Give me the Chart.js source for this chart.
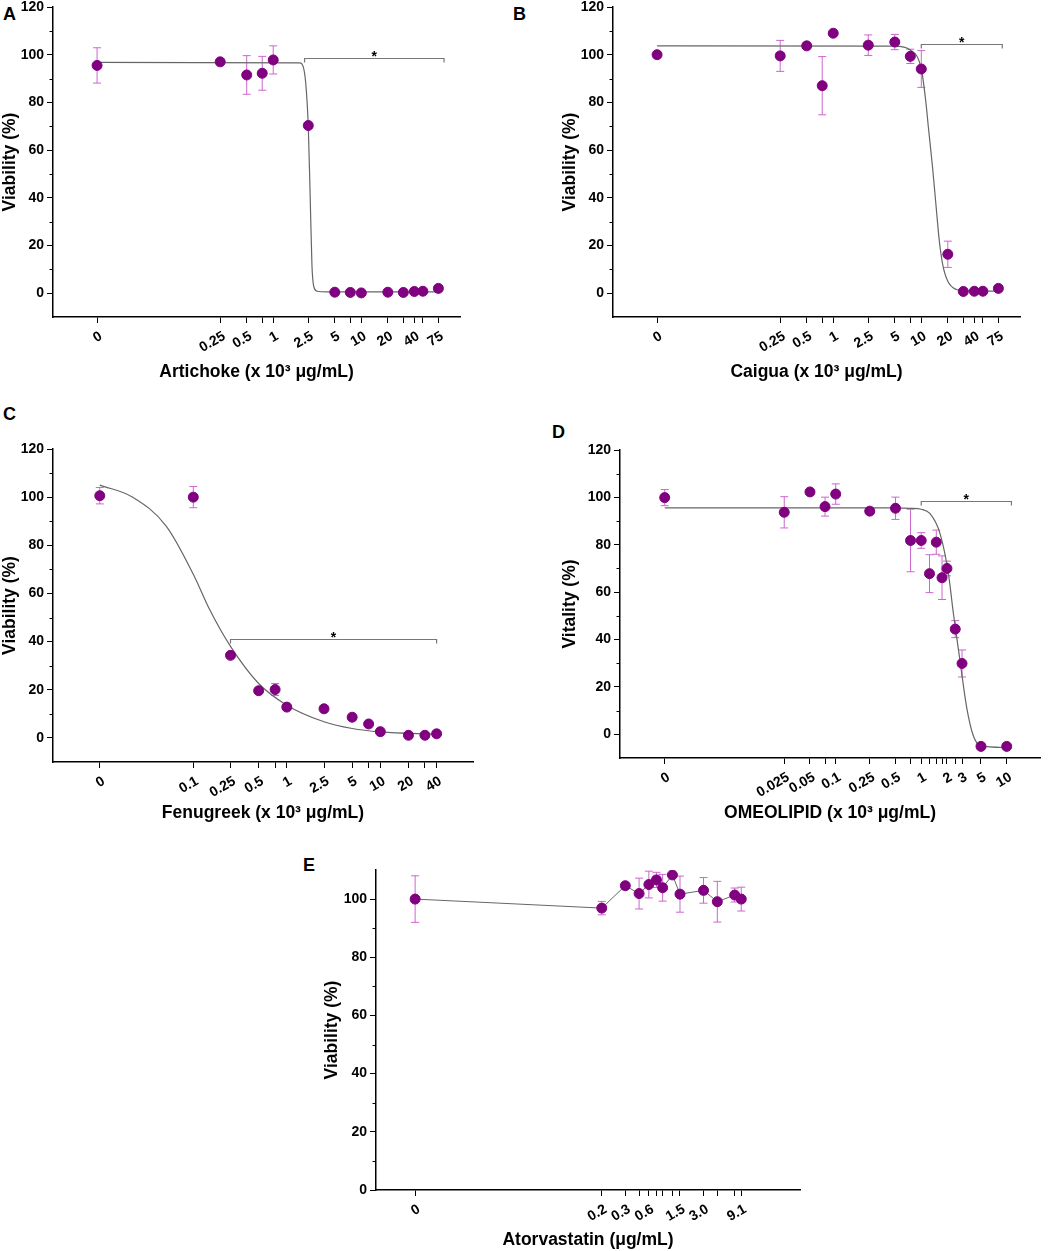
<!DOCTYPE html>
<html lang="en">
<head>
<meta charset="UTF-8">
<title>Viability</title>
<script src="https://cdn.jsdelivr.net/npm/chart.js"></script>
<style>
  body { margin: 0; background: #fff; width: 1052px; height: 1251px; position: relative; overflow: hidden;
         font-family: "Liberation Sans", Arial, sans-serif; }
  canvas { position: absolute; }
  .tag { position: absolute; font-weight: bold; font-size: 18px; line-height: 18px; color: #000; }
</style>
</head>
<body>
<div class="tag" style="left:3px;top:5px">A</div>
<div class="tag" style="left:513px;top:5px">B</div>
<div class="tag" style="left:3px;top:405px">C</div>
<div class="tag" style="left:552px;top:423px">D</div>
<div class="tag" style="left:303px;top:856px">E</div>

<canvas id="chartA" width="470" height="387" style="left:0px;top:0px"></canvas>
<canvas id="chartB" width="470" height="387" style="left:560px;top:0px"></canvas>
<canvas id="chartC" width="485" height="388" style="left:0px;top:440px"></canvas>
<canvas id="chartD" width="490" height="388" style="left:560px;top:440px"></canvas>
<canvas id="chartE" width="488" height="395" style="left:322px;top:860px"></canvas>

<script>
// ---- A: Artichoke ----
const dosesA = [0, 0.25, 0.5, 0.75, 1, 2.5, 5, 7.5, 10, 20, 30, 40, 50, 75];
const viabA  = [95.5, 97, 91.5, 92.2, 97.8, 70.3, 0.4, 0.3, 0.1, 0.4, 0.3, 0.7, 0.8, 2.0];
const sdA    = [7.4, 0.8, 8.1, 7.1, 5.9, 1.0, 0, 0, 0, 0, 0, 0, 0, 0];
const fitDoseA = [0, 2.0, 2.19, 2.34, 2.5, 2.63, 2.75, 2.88, 3.16, 4.0, 75];
const fitViabA = [96.8, 96.6, 95, 88, 70, 40, 12, 3, 0.8, 0.5, 0.5];
const tickDosesA  = [0, 0.25, 0.5, 0.75, 1, 2.5, 5, 7.5, 10, 20, 30, 40, 50, 75];
const tickLabelsA = ['0', '0.25', '0.5', '', '1', '2.5', '5', '', '10', '20', '', '40', '', '75'];

// ---- B: Caigua ----
const dosesB = [0, 0.25, 0.5, 0.75, 1, 2.5, 5, 7.5, 10, 20, 30, 40, 50, 75];
const viabB  = [100, 99.5, 103.7, 87, 109, 104, 105.3, 99.3, 94, 16.3, 0.7, 0.8, 0.8, 2.0];
const sdB    = [0, 6.5, 0, 12.2, 0, 4.3, 3.2, 3, 7.7, 5.5, 0, 0, 0, 0];
const fitDoseB = [0, 5, 7.5, 10, 11.2, 12, 13.4, 15, 16, 17.5, 20, 25, 30, 75];
const fitViabB = [103.7, 103.6, 102, 94, 81, 70, 53, 33, 22, 12, 5, 1.5, 1.0, 0.8];
const tickDosesB  = [0, 0.25, 0.5, 0.75, 1, 2.5, 5, 7.5, 10, 20, 30, 40, 50, 75];
const tickLabelsB = ['0', '0.25', '0.5', '', '1', '2.5', '5', '', '10', '20', '', '40', '', '75'];

// ---- C: Fenugreek ----
const dosesC = [0, 0.1, 0.25, 0.5, 0.75, 1, 2.5, 5, 7.5, 10, 20, 30, 40];
const viabC  = [100.6, 100, 34.3, 19.6, 20.1, 12.8, 12.1, 8.6, 5.8, 2.6, 1.1, 1.1, 1.7];
const sdC    = [3.4, 4.4, 0.8, 0.8, 2.5, 0.8, 0.5, 1.3, 0.5, 0.5, 0, 0, 0];
const fitDoseC = [0, 0.0225, 0.0513, 0.1, 0.151, 0.251, 0.5, 1, 2.5, 5, 10, 40];
const fitViabC = [105, 100, 88, 68, 53, 37.9, 22.6, 13.6, 6.7, 3.9, 2.5, 1.5];
const tickDosesC  = [0, 0.1, 0.25, 0.5, 0.75, 1, 2.5, 5, 7.5, 10, 20, 30, 40];
const tickLabelsC = ['0', '0.1', '0.25', '0.5', '', '1', '2.5', '5', '', '10', '20', '', '40'];

// ---- D: OMEOLIPID ----
const dosesD = [0, 0.025, 0.05, 0.075, 0.1, 0.25, 0.5, 0.75, 1, 1.25, 1.5, 1.75, 2, 2.5, 3, 5, 10];
const viabD  = [99.9, 93.7, 102.3, 96.1, 101.4, 94.2, 95.4, 81.8, 81.8, 67.8, 81.1, 66.1, 70, 44.4, 29.9, -5.1, -5.1];
const sdD    = [3.4, 6.6, 1, 4, 4.3, 1, 4.7, 13.2, 3.3, 8, 5.1, 9.2, 3.1, 3.6, 5.7, 0, 0];
const fitDoseD = [0, 0.5, 0.75, 1, 1.27, 1.66, 2.08, 2.38, 2.84, 3.4, 4.06, 4.94, 10];
const fitViabD = [95.6, 95.6, 95.4, 95.0, 93.1, 84.7, 67.8, 50.9, 31.1, 11.4, -0.5, -4.8, -5.6];
const tickDosesD  = [0, 0.025, 0.05, 0.075, 0.1, 0.25, 0.5, 0.75, 1, 1.25, 1.5, 1.75, 2, 2.5, 3, 5, 10];
const tickLabelsD = ['0', '0.025', '0.05', '', '0.1', '0.25', '0.5', '', '1', '', '', '', '2', '', '3', '5', '10'];

// ---- E: Atorvastatin ----
const dosesE = [0, 0.15, 0.3, 0.45, 0.6, 0.75, 0.9, 1.2, 1.5, 3.0, 4.5, 7.5, 9.1];
const viabE  = [100, 96.9, 104.6, 101.9, 105, 106.6, 103.9, 108.3, 101.7, 103, 99.1, 101.4, 100];
const sdE    = [8, 2.3, 1.1, 5.3, 4.6, 2.6, 4.6, 0, 6.2, 4.4, 7, 2.4, 4.1];
const tickDosesE  = [0, 0.15, 0.3, 0.45, 0.6, 0.75, 0.9, 1.2, 1.5, 3.0, 4.5, 7.5, 9.1];
const tickLabelsE = ['0', '0.2', '0.3', '', '0.6', '', '', '', '1.5', '3.0', '', '', '9.1'];

const yTicksMain  = [0, 20, 40, 60, 80, 100, 120];
const yMinorMain  = [10, 30, 50, 70, 90, 110];
const yTicksE     = [0, 20, 40, 60, 80, 100];
const yMinorE     = [10, 30, 50, 70, 90];

const FONT = '"Liberation Sans", Arial, sans-serif';
Chart.defaults.font.family = FONT;
Chart.defaults.color = '#000';

const panels = [
  { id: 'A', doses: dosesA, viab: viabA, sd: sdA, fitX: fitDoseA, fitY: fitViabA,
    ticks: tickDosesA, labels: tickLabelsA, zeroAt: 0.01, xMin: 0.00316, xMax: 132,
    yMin: -10, yMax: 120, yTicks: yTicksMain, yMinor: yMinorMain,
    title: 'Artichoke (x 10³ μg/mL)', yTitle: 'Viability (%)', bracket: [2.27, 87, 98.6],
    yW: 53, xH: 70, padTop: 7, padRight: 10 },
  { id: 'B', doses: dosesB, viab: viabB, sd: sdB, fitX: fitDoseB, fitY: fitViabB,
    ticks: tickDosesB, labels: tickLabelsB, zeroAt: 0.01, xMin: 0.00316, xMax: 132,
    yMin: -10, yMax: 120, yTicks: yTicksMain, yMinor: yMinorMain,
    title: 'Caigua (x 10³ μg/mL)', yTitle: 'Viability (%)', bracket: [10, 83, 104.4],
    yW: 53, xH: 70, padTop: 7, padRight: 10 },
  { id: 'C', doses: dosesC, viab: viabC, sd: sdC, fitX: fitDoseC, fitY: fitViabC,
    ticks: tickDosesC, labels: tickLabelsC, zeroAt: 0.01, xMin: 0.00316, xMax: 98,
    yMin: -10, yMax: 120, yTicks: yTicksMain, yMinor: yMinorMain,
    title: 'Fenugreek (x 10³ μg/mL)', yTitle: 'Viability (%)', bracket: [0.25, 40, 41],
    yW: 53, xH: 66, padTop: 9, padRight: 12 },
  { id: 'D', doses: dosesD, viab: viabD, sd: sdD, fitX: fitDoseD, fitY: fitViabD,
    ticks: tickDosesD, labels: tickLabelsD, zeroAt: 0.001, xMin: 0.000316, xMax: 24.5,
    yMin: -10, yMax: 120, yTicks: yTicksMain, yMinor: yMinorMain,
    title: 'OMEOLIPID (x 10³ μg/mL)', yTitle: 'Vitality (%)', bracket: [1, 11.35, 98.3],
    yW: 60, xH: 70, padTop: 10, padRight: 10 },
  { id: 'E', doses: dosesE, viab: viabE, sd: sdE, connect: true,
    ticks: tickDosesE, labels: tickLabelsE, zeroAt: 0.000617, xMin: 0.000195, xMax: 51.3,
    yMin: 0, yMax: 110, yTicks: yTicksE, yMinor: yMinorE,
    title: 'Atorvastatin (μg/mL)', yTitle: 'Viability (%)',
    yW: 54, xH: 65, padTop: 10, padRight: 10 }
];

function xOf(p, d) { return d === 0 ? p.zeroAt : d; }

function extrasPlugin(p) {
  return {
    id: 'extras' + p.id,
    beforeDatasetsDraw(chart) {
      const { ctx, scales: { x, y } } = chart;
      ctx.save();
      ctx.strokeStyle = '#cc66cc';
      ctx.lineWidth = 1;
      p.doses.forEach((d, i) => {
        const e = p.sd[i];
        if (!e) return;
        const px = x.getPixelForValue(xOf(p, d));
        const y1 = y.getPixelForValue(p.viab[i] + e);
        const y2 = y.getPixelForValue(p.viab[i] - e);
        ctx.beginPath();
        ctx.moveTo(px, y1); ctx.lineTo(px, y2);
        ctx.moveTo(px - 4, y1); ctx.lineTo(px + 4, y1);
        ctx.moveTo(px - 4, y2); ctx.lineTo(px + 4, y2);
        ctx.stroke();
      });
      ctx.restore();
    },
    afterDraw(chart) {
      const { ctx, chartArea, scales: { x, y } } = chart;
      ctx.save();
      // minor ticks on y
      ctx.strokeStyle = '#000';
      ctx.lineWidth = 1;
      p.yMinor.forEach(v => {
        const py = Math.round(y.getPixelForValue(v)) + 0.5;
        ctx.beginPath();
        ctx.moveTo(chartArea.left, py);
        ctx.lineTo(chartArea.left - 3.5, py);
        ctx.stroke();
      });
      // significance bracket
      if (p.bracket) {
        const [b0, b1, bv] = p.bracket;
        const x0 = x.getPixelForValue(b0), x1 = x.getPixelForValue(b1);
        const by = Math.round(y.getPixelForValue(bv)) + 0.5;
        ctx.strokeStyle = '#777';
        ctx.lineWidth = 1.2;
        ctx.beginPath();
        ctx.moveTo(x0, by + 4); ctx.lineTo(x0, by); ctx.lineTo(x1, by); ctx.lineTo(x1, by + 4);
        ctx.stroke();
        ctx.fillStyle = '#000';
        ctx.font = 'bold 14px ' + FONT;
        ctx.textAlign = 'center';
        ctx.textBaseline = 'alphabetic';
        ctx.fillText('*', (x0 + x1) / 2, by + 2);
      }
      ctx.restore();
    }
  };
}

function makePanel(p) {
  const datasets = [];
  if (p.fitX) {
    datasets.push({
      data: p.fitX.map((d, i) => ({ x: xOf(p, d), y: p.fitY[i] })),
      showLine: true, borderColor: '#666', borderWidth: 1.2, pointRadius: 0,
      cubicInterpolationMode: 'monotone', order: 2
    });
  }
  datasets.push({
    data: p.doses.map((d, i) => ({ x: xOf(p, d), y: p.viab[i] })),
    showLine: !!p.connect, borderColor: p.connect ? '#666' : '#800080', borderWidth: 1,
    backgroundColor: '#800080', pointBackgroundColor: '#800080', pointBorderColor: '#800080',
    pointRadius: 5, order: 1
  });

  const axisBorder = { display: true, color: '#000', width: 1.5 };
  const axisGrid = { drawOnChartArea: false, drawTicks: true, tickLength: 6, tickColor: '#000', tickWidth: 1 };
  const tickFont = { size: 14, weight: 'bold' };
  const titleFont = { size: 17.5, weight: 'bold' };

  new Chart(document.getElementById('chart' + p.id), {
    type: 'scatter',
    data: { datasets },
    options: {
      responsive: false,
      animation: false,
      layout: { padding: { left: 0, top: p.padTop, right: p.padRight, bottom: 0 } },
      plugins: { legend: { display: false }, tooltip: { enabled: false } },
      scales: {
        x: {
          type: 'logarithmic', min: p.xMin, max: p.xMax,
          afterBuildTicks: s => { s.ticks = p.ticks.map(d => ({ value: xOf(p, d) })); },
          afterFit: s => { s.height = p.xH; s.paddingLeft = 0; s.paddingRight = 0; },
          ticks: { autoSkip: false, minRotation: 30, maxRotation: 30, padding: 5, labelOffset: 4,
                   font: tickFont, color: '#000', callback: (v, i) => p.labels[i] },
          grid: axisGrid, border: axisBorder,
          title: { display: true, text: p.title, font: titleFont, color: '#000', padding: { top: 0, bottom: 4 } }
        },
        y: {
          min: p.yMin, max: p.yMax,
          afterBuildTicks: s => { s.ticks = p.yTicks.map(v => ({ value: v })); },
          afterFit: s => { s.width = p.yW; s.paddingTop = 0; s.paddingBottom = 0; },
          ticks: { font: tickFont, color: '#000', padding: 3 },
          grid: axisGrid, border: axisBorder,
          title: { display: true, text: p.yTitle, font: titleFont, color: '#000', padding: { top: 0, bottom: 0 } }
        }
      }
    },
    plugins: [extrasPlugin(p)]
  });
}

panels.forEach(makePanel);
</script>
</body>
</html>
